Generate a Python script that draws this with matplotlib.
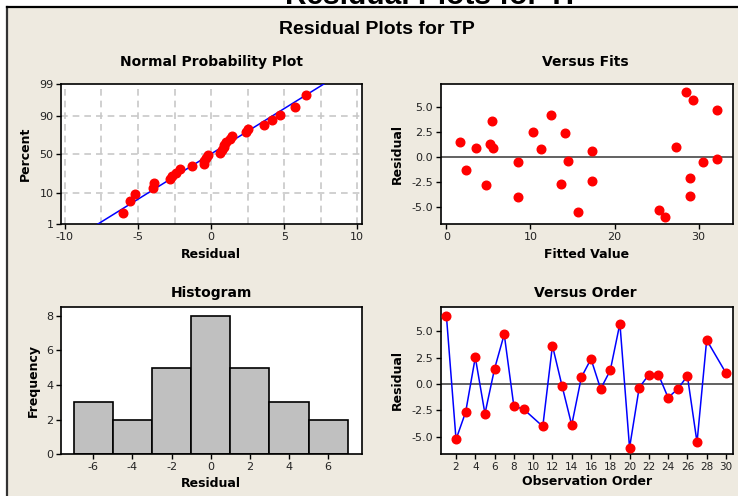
import numpy as np
import matplotlib
matplotlib.use("Agg")
import matplotlib.pyplot as plt
from matplotlib.patches import Rectangle
from matplotlib.lines import Line2D
from statistics import NormalDist

plt.rcParams["axes.unicode_minus"] = False

# ---------------- data ----------------
observation = [1, 2, 3, 4, 5, 6, 7, 8, 9, 11, 12, 13, 14, 15, 16, 17, 18, 19,
               20, 21, 22, 23, 24, 25, 26, 27, 28, 30]
residuals = [6.47, -5.24, -2.65, 2.52, -2.81, 1.45, 4.70, -2.11, -2.37, -4.01,
             3.63, -0.19, -3.88, 0.63, 2.37, -0.47, 1.29, 5.72, -6.03, -0.35,
             0.88, 0.88, -1.29, -0.47, 0.76, -5.52, 4.16, 1.04]
fitted = [28.46, 25.25, 13.60, 10.34, 4.68, 1.59, 32.22, 28.97, 17.36, 8.48,
          5.39, 32.22, 28.97, 17.36, 14.10, 8.48, 5.23, 29.29, 26.04, 14.47,
          3.49, 5.59, 2.30, 30.48, 11.22, 15.66, 12.40, 27.27]
hist_bins = [-7, -5, -3, -1, 1, 3, 5, 7]
pct_ticks = [1, 10, 50, 90, 99]
main_title = "Residual Plots for TP"

# ---------------- style ----------------
W, H = 738, 496
BEIGE = "#EEEAE0"
RED = "#FF0000"
BLUE = "#0000FF"
TICKC = "#222222"

fig = plt.figure(figsize=(W / 100, H / 100), dpi=100, facecolor="white")

def fx(px):
    return px / W

def fy(py):
    return 1 - py / H

def add_ax(l, t, r, b):
    ax = fig.add_axes([fx(l), fy(b), fx(r) - fx(l), (b - t) / H])
    ax.set_zorder(2)
    ax.set_facecolor("white")
    for s in ax.spines.values():
        s.set_linewidth(1.2)
        s.set_color("black")
    ax.tick_params(direction="out", length=3.5, width=1, colors="black",
                   labelcolor=TICKC, labelsize=8, pad=2)
    return ax

# background panel and borders
fig.patches.append(Rectangle((fx(7), 0), 1 - fx(7), fy(7), transform=fig.transFigure,
                             facecolor=BEIGE, edgecolor="none", zorder=-2))
fig.lines.append(Line2D([fx(7), fx(7)], [0, fy(7)], transform=fig.transFigure,
                        color="#333333", lw=1.6, zorder=-1))
fig.lines.append(Line2D([fx(7), 1], [fy(7), fy(7)], transform=fig.transFigure,
                        color="black", lw=1.6, zorder=-1))

# clipped big title at the very top and the panel title
fig.text(fx(435), fy(4), main_title, ha="center", va="baseline",
         fontsize=21.5, fontweight="bold", family="Liberation Sans", color="black")
fig.text(fx(377), fy(30), main_title, ha="center", va="center",
         fontsize=14, fontweight="bold", family="Liberation Sans", color="black")

lab_kw = dict(fontsize=9, fontweight="bold", color="black")
tit_kw = dict(fontsize=10, fontweight="bold", color="black", ha="center", va="center")

res = np.array(residuals)
n = len(res)

# ---------- Normal probability plot ----------
nd = NormalDist()
ax1 = add_ax(61, 84, 361.7, 224.3)
srt = np.sort(res)
p = (np.arange(1, n + 1) - 0.3) / (n + 0.4)
z = np.array([nd.inv_cdf(v) for v in p])
mu, sd = res.mean(), res.std(ddof=1)
zl = np.linspace(nd.inv_cdf(0.005), nd.inv_cdf(0.995), 50)
ax1.plot(mu + sd * zl, zl, color=BLUE, lw=1.1, zorder=3)
ax1.plot(srt, z, "o", color=RED, ms=6.2, mec=RED, zorder=4)
zt = [nd.inv_cdf(v / 100) for v in pct_ticks]
ax1.set_yticks(zt)
ax1.set_yticklabels([str(v) for v in pct_ticks])
ax1.set_ylim(zt[0], zt[-1])
ax1.set_xlim(-10.27, 10.3)
ax1.set_xticks([-10, -5, 0, 5, 10])
for gx in np.arange(-10, 10.01, 2.5):
    ax1.axvline(gx, color="#C8C8C8", lw=1.2, ls=(0, (4, 3)), zorder=1)
for gz in zt[1:-1]:
    ax1.axhline(gz, color="#C8C8C8", lw=1.2, ls=(0, (4, 3)), zorder=1)
ax1.set_xlabel("Residual", va="center", **lab_kw)
ax1.xaxis.set_label_coords(0.5, -0.212)
ax1.set_ylabel("Percent", va="center", ha="center", **lab_kw)
ax1.yaxis.set_label_coords(-0.12, 0.5)
fig.text(fx(211), fy(62), "Normal Probability Plot", **tit_kw)

# ---------- Versus fits ----------
ax2 = add_ax(440.7, 84, 732.7, 224.3)
ax2.axhline(0, color="#555555", lw=1.3, zorder=2)
ax2.plot(fitted, residuals, "o", color=RED, ms=6.2, mec=RED, zorder=3)
ax2.set_xlim(-0.67, 34.05)
ax2.set_ylim(-6.71, 7.28)
ax2.set_xticks([0, 10, 20, 30])
ax2.set_yticks([-5, -2.5, 0, 2.5, 5])
ax2.set_yticklabels([f"{v:.1f}" for v in [-5, -2.5, 0, 2.5, 5]])
ax2.set_xlabel("Fitted Value", va="center", **lab_kw)
ax2.xaxis.set_label_coords(0.5, -0.212)
ax2.set_ylabel("Residual", va="center", ha="center", **lab_kw)
ax2.yaxis.set_label_coords(-0.15, 0.5)
fig.text(fx(585), fy(62), "Versus Fits", **tit_kw)

# ---------- Histogram ----------
ax3 = add_ax(61, 306.7, 361.7, 454.3)
ax3.hist(res, bins=hist_bins, color="#C0C0C0", edgecolor="black", linewidth=1.2)
ax3.set_xlim(-7.65, 7.71)
ax3.set_ylim(0, 8.52)
ax3.set_xticks([-6, -4, -2, 0, 2, 4, 6])
ax3.set_yticks([0, 2, 4, 6, 8])
ax3.set_xlabel("Residual", va="center", **lab_kw)
ax3.xaxis.set_label_coords(0.5, -0.201)
ax3.set_ylabel("Frequency", va="center", ha="center", **lab_kw)
ax3.yaxis.set_label_coords(-0.093, 0.5)
fig.text(fx(211), fy(293), "Histogram", **tit_kw)

# ---------- Versus order ----------
ax4 = add_ax(440.7, 306.7, 732.7, 454.3)
ax4.axhline(0, color="#555555", lw=1.3, zorder=2)
ax4.plot(observation, residuals, "-", color=BLUE, lw=1.1, zorder=3)
ax4.plot(observation, residuals, "o", color=RED, ms=6.2, mec=RED, zorder=4)
ax4.set_xlim(0.41, 30.7)
ax4.set_ylim(-6.65, 7.31)
ax4.set_xticks(list(range(2, 31, 2)))
ax4.set_yticks([-5, -2.5, 0, 2.5, 5])
ax4.set_yticklabels([f"{v:.1f}" for v in [-5, -2.5, 0, 2.5, 5]])
ax4.tick_params(axis="x", labelsize=7.5)
ax4.set_xlabel("Observation Order", va="center", **lab_kw)
ax4.xaxis.set_label_coords(0.5, -0.186)
ax4.set_ylabel("Residual", va="center", ha="center", **lab_kw)
ax4.yaxis.set_label_coords(-0.15, 0.5)
fig.text(fx(585), fy(293), "Versus Order", **tit_kw)

fig.savefig("out.png", dpi=100, facecolor="white")
